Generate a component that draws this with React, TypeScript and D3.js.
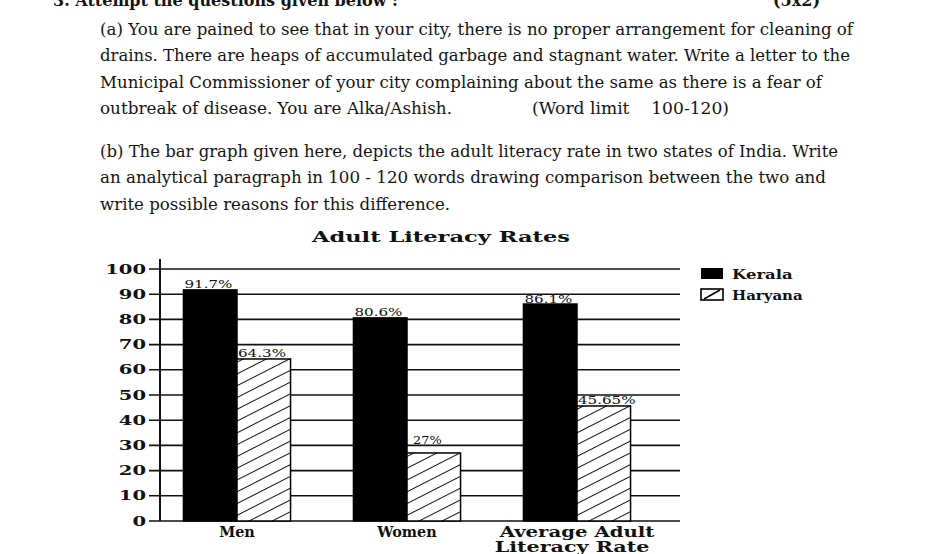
import React from 'react'
import * as d3 from 'd3'

const categories = ['Men', 'Women', 'Average Adult Literacy Rate']
const categoryLines = [['Men'], ['Women'], ['Average Adult', 'Literacy Rate']]
const states = ['Kerala', 'Haryana']
const kerala = [91.7, 80.6, 86.1]
const haryana = [64.3, 27, 45.65]
const valueLabels = [
  ['91.7%', '80.6%', '86.1%'],
  ['64.3%', '27%', '45.65%'],
]
const yTicks = [0, 10, 20, 30, 40, 50, 60, 70, 80, 90, 100]

const headerText = '3. Attempt the questions given below :'
const marksText = '(5x2)'
const partA = [
  '(a) You are pained to see that in your city, there is no proper arrangement for cleaning of',
  'drains. There are heaps of accumulated garbage and stagnant water. Write a letter to the',
  'Municipal Commissioner of your city complaining about the same as there is a fear of',
  'outbreak of disease. You are Alka/Ashish.',
]
const wordLimit = '(Word limit    100-120)'
const partB = [
  '(b) The bar graph given here, depicts the adult literacy rate in two states of India. Write',
  'an analytical paragraph in 100 - 120 words drawing comparison between the two and',
  'write possible reasons for this difference.',
]
const partALengths = [753, 750, 722, 352]
const partBLengths = [738, 726, 350]

const W = 926
const H = 554
const ink = '#111'
const serif = '"DejaVu Serif", serif'

const App = () => {
  const y = d3.scaleLinear().domain([0, 100]).range([521, 269])
  const x0 = d3
    .scaleBand()
    .domain(categories)
    .range([152, 662])
    .paddingInner(0.37)
    .paddingOuter(0.185)
  const x1 = d3.scaleBand().domain(states).range([0, x0.bandwidth()])
  const series = [kerala, haryana]

  const axisX = 160
  const gridRight = 680

  // keep value labels clear of the gridline just above the bar
  const labelY = (v: number) => {
    let base = y(v) - 1.5
    const above = yTicks.map((t) => y(t)).filter((g) => g < base)
    const nearest = d3.max(above)
    if (nearest !== undefined && base - nearest < 7) base = nearest - 1
    return base
  }

  return (
    <svg width={W} height={H} style={{ position: 'absolute', left: 0, top: 0, background: '#fff' }}>
      <defs>
        <pattern id="hatch" width="10.5" height="10.5" patternUnits="userSpaceOnUse" patternTransform="rotate(-27)">
          <rect width="10.5" height="10.5" fill="#fff" />
          <line x1="0" y1="0" x2="10.5" y2="0" stroke={ink} strokeWidth="2" />
        </pattern>
      </defs>
      <rect width={W} height={H} fill="#fff" />

      {/* question text */}
      <g fontFamily={serif} fill="#141414">
        <text x={53} y={6} fontSize={17} fontWeight="bold" textLength={345} lengthAdjust="spacingAndGlyphs">
          {headerText}
        </text>
        <text x={773} y={6} fontSize={17} fontWeight="bold" textLength={47} lengthAdjust="spacingAndGlyphs">
          {marksText}
        </text>
        {partA.map((t, i) => (
          <text key={i} x={100} y={35 + i * 26.3} fontSize={17.5} textLength={partALengths[i]} lengthAdjust="spacingAndGlyphs">
            {t}
          </text>
        ))}
        <text x={532} y={35 + 3 * 26.3} fontSize={17.5} textLength={197} lengthAdjust="spacingAndGlyphs" xmlSpace="preserve">
          {wordLimit}
        </text>
        {partB.map((t, i) => (
          <text key={i} x={100} y={157 + i * 26.3} fontSize={17.5} textLength={partBLengths[i]} lengthAdjust="spacingAndGlyphs">
            {t}
          </text>
        ))}
      </g>

      {/* chart */}
      <g fontFamily={serif} fill={ink}>
        <text x={441} y={242} fontSize={15} fontWeight="bold" textAnchor="middle" textLength={258} lengthAdjust="spacingAndGlyphs">
          Adult Literacy Rates
        </text>

        {yTicks.map((t) => (
          <g key={t}>
            <line x1={149} x2={gridRight} y1={y(t)} y2={y(t)} stroke={ink} strokeWidth={1.6} />
            <text
              x={146}
              y={y(t) + 4.5}
              fontSize={12.5}
              fontWeight="bold"
              textAnchor="end"
              textLength={String(t).length * 13.6}
              lengthAdjust="spacingAndGlyphs"
            >
              {t}
            </text>
          </g>
        ))}
        <line x1={axisX} x2={axisX} y1={y(0)} y2={y(104)} stroke={ink} strokeWidth={2} />

        {categories.map((c, ci) => (
          <g key={c} transform={`translate(${x0(c)},0)`}>
            {states.map((s, si) => {
              const v = series[si][ci]
              return (
                <rect
                  key={s}
                  x={x1(s)}
                  y={y(v)}
                  width={x1.bandwidth()}
                  height={y(0) - y(v)}
                  fill={si === 0 ? '#000' : 'url(#hatch)'}
                  stroke="#000"
                  strokeWidth={1.5}
                />
              )
            })}
            {states.map((s, si) => {
              const v = series[si][ci]
              const lab = valueLabels[si][ci]
              return (
                <text
                  key={s + 'l'}
                  x={(x1(s) ?? 0) + (lab.length < 4 ? 6 : 1)}
                  y={labelY(v)}
                  fontSize={10.5}
                  textLength={lab.length * 9.6}
                  lengthAdjust="spacingAndGlyphs"
                >
                  {lab}
                </text>
              )
            })}
            {categoryLines[ci].map((ln, li) => (
              <text
                key={ln}
                x={x0.bandwidth() / 2 + (li === 1 ? -5 : 0)}
                y={537 + li * 14.5}
                fontSize={14}
                fontWeight="bold"
                textAnchor="middle"
                textLength={ln.length * 11.9}
                lengthAdjust="spacingAndGlyphs"
              >
                {ln}
              </text>
            ))}
          </g>
        ))}

        {/* legend */}
        {states.map((s, i) => (
          <g key={s} transform={`translate(701,${268 + i * 21})`}>
            {i === 0 ? (
              <rect width={22} height={11} fill="#000" />
            ) : (
              <g>
                <rect width={22} height={11} fill="#fff" stroke="#000" strokeWidth={1.6} />
                <line x1={3} y1={10} x2={19} y2={1} stroke="#000" strokeWidth={1.6} />
              </g>
            )}
            <text x={31} y={10.5} fontSize={12} fontWeight="bold" textLength={s.length * 10.1} lengthAdjust="spacingAndGlyphs">
              {s}
            </text>
          </g>
        ))}
      </g>
    </svg>
  )
}

export default App
